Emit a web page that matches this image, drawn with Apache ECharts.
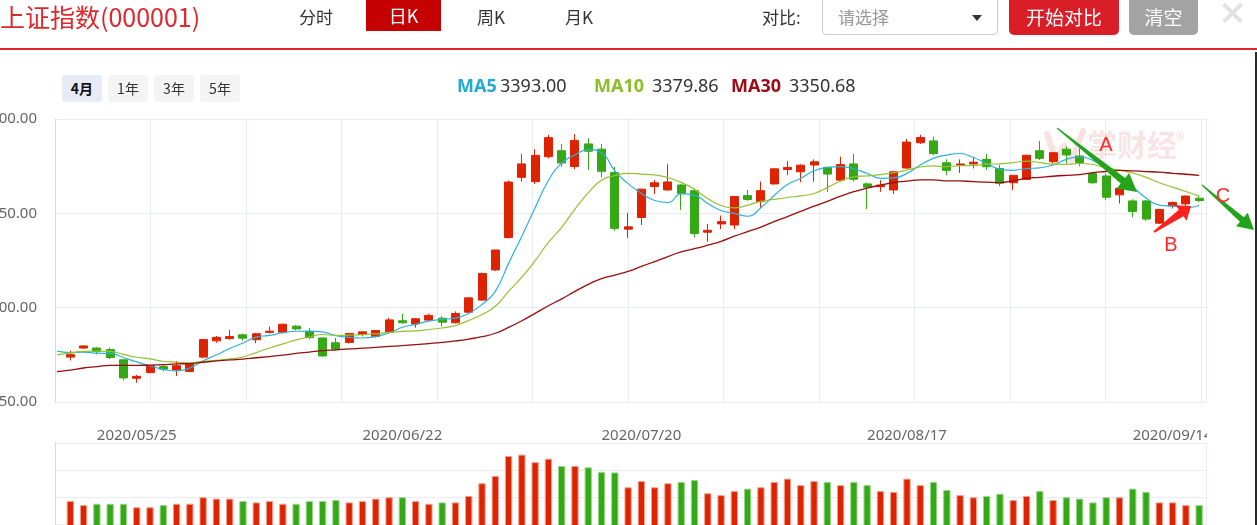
<!DOCTYPE html>
<html><head><meta charset="utf-8">
<script src="https://cdn.jsdelivr.net/npm/echarts@6/dist/echarts.min.js"></script>
<style>
html,body{margin:0;padding:0;background:#fff;width:1257px;height:525px;overflow:hidden;font-family:"Noto Sans CJK SC","Noto Sans",sans-serif;}
#chart{position:absolute;left:0;top:0;width:1257px;height:525px;}
.a{position:absolute;white-space:nowrap;}
.tab{font-size:17px;color:#333;top:3px;line-height:28px;}
.pb{top:75px;height:27px;width:40px;line-height:27px;text-align:center;font-size:14px;color:#333;background:#f4f4f4;border-radius:3px;}
.lg{top:72px;line-height:26px;font-size:18px;font-family:"Noto Sans",sans-serif;color:#333;}
.lg b{font-weight:700;}
</style></head><body>
<div id="chart"></div>
<div class="a" style="left:0;top:0;font-size:25px;line-height:32px;color:#dc282d;">上证指数(000001)</div>
<div class="a tab" style="left:299px;">分时</div>
<div class="a" style="left:366px;top:0;width:75px;height:31px;background:#c40000;color:#fff;font-size:18px;line-height:31px;text-align:center;">日K</div>
<div class="a tab" style="left:477px;">周K</div>
<div class="a tab" style="left:565px;">月K</div>
<div class="a tab" style="left:762px;">对比:</div>
<div class="a" style="left:822px;top:-5px;width:174px;height:38px;border:1px solid #ccc;border-radius:4px;"></div>
<div class="a tab" style="left:838px;color:#999;">请选择</div>
<div class="a" style="left:972px;top:15px;width:0;height:0;border-left:5px solid transparent;border-right:5px solid transparent;border-top:6px solid #333;"></div>
<div class="a" style="left:1009px;top:-5px;width:110px;height:40px;background:#da1e28;border-radius:5px;color:#fff;font-size:19px;line-height:44px;text-align:center;">开始对比</div>
<div class="a" style="left:1129px;top:-5px;width:69px;height:40px;background:#a3a3a3;border-radius:5px;color:#fff;font-size:19px;line-height:44px;text-align:center;">清空</div>
<div class="a" style="left:1220px;top:11px;width:25px;height:4px;background:#e2e2e2;transform:rotate(45deg);"></div>
<div class="a" style="left:1220px;top:11px;width:25px;height:4px;background:#e2e2e2;transform:rotate(-45deg);"></div>
<div class="a" style="left:0;top:48px;width:1257px;height:2px;background:#dc282d;"></div>
<div class="a" style="left:1255px;top:52px;width:2px;height:473px;background:#2a2a2a;"></div>
<div class="a pb" style="left:62px;background:#e6ebf5;color:#111;font-weight:700;">4月</div>
<div class="a pb" style="left:108px;">1年</div>
<div class="a pb" style="left:154px;">3年</div>
<div class="a pb" style="left:200px;">5年</div>
<div class="a lg" style="left:457px;"><b style="color:#22aad2">MA5</b></div>
<div class="a lg" style="left:500px;" id="v5"></div>
<div class="a lg" style="left:594px;"><b style="color:#8cbe28">MA10</b></div>
<div class="a lg" style="left:652px;" id="v10"></div>
<div class="a lg" style="left:731px;"><b style="color:#a00a14">MA30</b></div>
<div class="a lg" style="left:789px;" id="v30"></div>
<script>
// ---------------- data ----------------
const dates = ['2020/05/15','2020/05/18','2020/05/19','2020/05/20','2020/05/21','2020/05/22','2020/05/25','2020/05/26','2020/05/27','2020/05/28','2020/05/29',
'2020/06/01','2020/06/02','2020/06/03','2020/06/04','2020/06/05','2020/06/08','2020/06/09','2020/06/10','2020/06/11','2020/06/12','2020/06/15','2020/06/16','2020/06/17','2020/06/18','2020/06/19','2020/06/22','2020/06/23','2020/06/24','2020/06/29','2020/06/30',
'2020/07/01','2020/07/02','2020/07/03','2020/07/06','2020/07/07','2020/07/08','2020/07/09','2020/07/10','2020/07/13','2020/07/14','2020/07/15','2020/07/16','2020/07/17','2020/07/20','2020/07/21','2020/07/22','2020/07/23','2020/07/24','2020/07/27','2020/07/28','2020/07/29','2020/07/30','2020/07/31',
'2020/08/03','2020/08/04','2020/08/05','2020/08/06','2020/08/07','2020/08/10','2020/08/11','2020/08/12','2020/08/13','2020/08/14','2020/08/17','2020/08/18','2020/08/19','2020/08/20','2020/08/21','2020/08/24','2020/08/25','2020/08/26','2020/08/27','2020/08/28','2020/08/31',
'2020/09/01','2020/09/02','2020/09/03','2020/09/04','2020/09/07','2020/09/08','2020/09/09','2020/09/10','2020/09/11','2020/09/14','2020/09/15','2020/09/16'];

const closes = [2868.46,2875.42,2898.58,2883.74,2867.92,2813.77,2817.97,2846.55,2836.80,2846.22,2852.35,
2915.43,2921.40,2923.37,2919.25,2930.80,2937.77,2956.11,2943.75,2920.90,2919.74,2890.03,2931.75,2935.87,2939.32,2967.63,2965.27,2970.62,2979.55,2961.52,2984.67,
3025.98,3090.57,3152.81,3332.88,3345.34,3403.44,3450.59,3383.32,3443.29,3414.62,3361.30,3210.10,3214.13,3314.15,3320.90,3333.16,3325.11,3196.77,3205.23,3227.96,3294.55,3286.82,3310.01,
3367.97,3371.69,3377.56,3386.46,3354.04,3379.25,3340.29,3319.27,3320.73,3360.10,3438.80,3451.09,3408.13,3363.90,3380.68,3385.64,3373.58,3329.74,3350.59,3403.81,3395.68,
3410.61,3404.80,3384.98,3355.37,3292.59,3316.42,3254.63,3234.82,3260.35,3278.81,3295.68,3283.92];

const opens = [null,2869,2893,2893,2889,2862,2813,2828,2844,2835,2831,
2869,2912,2918,2928,2915,2934,2935,2951,2937,2872,2907,2908,2929,2924,2935,2960,2957,2967,2972,2960,
2988,3020,3100,3186,3381,3334,3400,3416,3374,3434,3420,3358,3208,3239,3331,3312,3303,3310,3200,3222,3219,3297,3281,
3328,3366,3360,3378,3372,3338,3381,3328,3325,3312,3370,3437,3442,3384,3378,3381,3393,3369,3331,3340,3416,
3387,3420,3402,3331,3349,3299,3283,3283,3224,3270,3275,3290];

const highs = [null,2886,2900,2895,2894,2863,2822,2847,2850,2859,2853,
2917,2925,2941,2931,2933,2950,2957,2954,2946,2921,2920,2932,2936,2940,2973,2983,2972,2984,2978,2990,
3027,3093,3153,3337,3407,3420,3458,3434,3460,3449,3434,3373,3251,3315,3338,3380,3327,3316,3222,3244,3295,3312,3334,
3368,3389,3380,3393,3374,3400,3407,3332,3338,3362,3447,3458,3453,3393,3393,3400,3407,3378,3352,3405,3442,
3413,3427,3422,3360,3355,3322,3287,3285,3261,3281,3298,3298];

const lows = [null,2860,2891,2876,2864,2808,2801,2826,2831,2819,2829,
2866,2907,2915,2913,2906,2932,2932,2940,2916,2870,2886,2905,2924,2921,2933,2957,2947,2965,2950,2958,
2985,3018,3097,3183,3334,3328,3396,3373,3367,3365,3345,3204,3185,3219,3301,3310,3259,3186,3175,3208,3208,3283,3263,
3326,3351,3333,3334,3307,3334,3334,3261,3307,3301,3368,3434,3404,3351,3357,3369,3365,3322,3312,3338,3391,
3382,3382,3375,3328,3285,3276,3239,3230,3222,3263,3267,3280];

const volumes = [null,185,170,175,175,175,162,162,170,175,175,
199,194,194,185,180,185,175,175,185,185,189,180,185,194,199,199,185,175,180,180,
204,251,278,352,357,329,342,315,315,310,293,291,236,259,236,251,256,263,214,207,222,231,236,
256,268,244,259,256,244,256,244,222,219,268,244,256,226,207,199,204,212,189,204,222,
189,199,194,180,199,199,231,219,180,180,170,170];

const ma5 = [2884.64,2880.77,2882.17,2879.31,2878.82,2867.89,2856.40,2845.99,2836.60,2832.26,
2839.98,2859.47,2874.44,2891.75,2906.36,2922.05,2926.52,2933.46,2937.54,2937.87,
2935.65,2926.11,2921.23,2919.66,2923.34,2932.92,2947.97,2955.74,2964.48,2968.92,
2972.33,2984.47,3008.46,3043.11,3117.38,3189.52,3265.01,3337.01,3383.11,3405.20,
3419.05,3410.62,3362.53,3328.69,3302.86,3284.12,3278.49,3301.49,3298.02,3276.23,
3257.65,3249.92,3242.27,3264.91,3297.46,3326.21,3342.81,3362.74,3371.54,3373.80,
3367.52,3355.86,3342.72,3343.93,3355.84,3378.00,3395.77,3404.40,3408.52,3397.89,
3382.39,3366.71,3364.05,3368.67,3370.68,3378.09,3393.10,3399.98,3390.29,3369.67,
3350.83,3320.80,3290.77,3271.76,3269.01,3264.86,3270.72];

const ma10 = [2875.07,2880.37,2884.22,2884.78,2884.42,2876.26,2868.58,2864.08,2857.96,2855.54,
2853.93,2857.93,2860.22,2864.18,2869.31,2881.01,2892.99,2903.95,2914.65,2922.11,
2928.85,2926.31,2927.35,2928.60,2930.60,2934.29,2937.04,2938.49,2942.07,2946.13,
2952.62,2966.22,2982.10,3003.79,3043.15,3080.92,3124.74,3172.74,3213.11,3261.29,
3304.28,3337.82,3349.77,3355.90,3354.03,3351.58,3344.56,3332.01,3313.35,3289.55,
3270.88,3264.21,3271.88,3281.47,3286.85,3291.93,3296.37,3302.50,3318.23,3335.63,
3346.86,3349.34,3352.73,3357.74,3364.82,3372.76,3375.82,3373.56,3376.22,3376.86,
3380.19,3381.24,3384.23,3388.60,3384.28,3380.24,3379.90,3382.01,3379.48,3370.18,
3364.46,3356.95,3345.37,3331.03,3319.34,3307.85,3295.76];

const ma30 = [2830.50,2834.67,2840.13,2843.57,2847.04,2846.80,2846.89,2847.58,2848.92,2851.02,
2851.86,2855.33,2858.72,2861.54,2863.77,2867.23,2870.35,2874.27,2878.78,2882.30,
2885.95,2888.21,2890.59,2892.52,2894.78,2897.19,2899.54,2902.17,2904.89,2907.93,
2911.80,2916.82,2923.22,2932.19,2947.69,2965.41,2984.92,3005.06,3023.28,3043.18,
3061.92,3076.78,3086.41,3096.10,3109.26,3122.26,3135.44,3147.74,3156.18,3165.66,
3175.93,3189.41,3201.25,3213.72,3228.01,3241.48,3255.22,3269.08,3281.56,3295.49,
3307.34,3317.12,3324.79,3331.70,3335.23,3338.76,3338.91,3336.02,3335.94,3334.01,
3332.65,3331.59,3336.28,3342.60,3345.32,3348.31,3350.70,3352.69,3357.98,3360.89,
3363.84,3362.51,3360.77,3359.12,3356.15,3353.61,3350.49];

const labelDates = ['2020/05/25','2020/06/22','2020/07/20','2020/08/17','2020/09/14'];
const legendValues = ['3393.00','3379.86','3350.68'];
const priceMin = 2750, priceMax = 3500, priceStep = 250;
const volMax = 400, volStep = 100;

// ---------------- build ----------------
document.getElementById('v5').textContent = legendValues[0];
document.getElementById('v10').textContent = legendValues[1];
document.getElementById('v30').textContent = legendValues[2];

const RED = '#de2300', GREEN = '#34a815';
const upColor = i => closes[i] >= closes[i - 1] ? RED : GREEN;
const candleData = dates.map((d, i) => opens[i] == null ? '-' : {
  value: [opens[i], closes[i], lows[i], highs[i]],
  itemStyle: {color: upColor(i), color0: upColor(i), borderColor: upColor(i), borderColor0: upColor(i)}
});
const volData = dates.map((d, i) => volumes[i] == null ? '-' : {
  value: volumes[i],
  itemStyle: {color: upColor(i), borderColor: upColor(i) === RED ? '#f0a08e' : '#9ad68a', borderWidth: 1}
});

function arrow(x1, y1, x2, y2, w0, w1, hw, hl) {
  const dx = x2 - x1, dy = y2 - y1, L = Math.hypot(dx, dy), ux = dx / L, uy = dy / L, nx = -uy, ny = ux;
  const bx = x2 - ux * hl, by = y2 - uy * hl;
  return [[x1 + nx * w0 / 2, y1 + ny * w0 / 2], [bx + nx * w1 / 2, by + ny * w1 / 2], [bx + nx * hw / 2, by + ny * hw / 2], [x2, y2],
          [bx - nx * hw / 2, by - ny * hw / 2], [bx - nx * w1 / 2, by - ny * w1 / 2], [x1 - nx * w0 / 2, y1 - ny * w0 / 2]];
}

const GRIDC = '#e9edf3';
const gridBase = {outerBoundsMode: 'none', containLabel: false};
const chart = echarts.init(document.getElementById('chart'), null, {renderer: 'canvas'});
chart.setOption({
  animation: false,
  grid: [
    Object.assign({left: 50.4, top: 119, width: 1155.4, height: 283}, gridBase),
    Object.assign({left: 55, top: 119, width: 1151, height: 283}, gridBase),
    Object.assign({left: 50.4, top: 443, width: 1155.4, height: 108}, gridBase),
    Object.assign({left: 55, top: 443, width: 1151, height: 108}, gridBase)
  ],
  xAxis: [
    {type: 'category', gridIndex: 0, data: dates, boundaryGap: true,
     axisLine: {show: false}, axisTick: {show: false}, splitLine: {show: false},
     axisLabel: {interval: (i, v) => labelDates.includes(v), margin: 26, fontSize: 15, color: '#666', fontFamily: 'Noto Sans'}},
    {type: 'value', gridIndex: 1, min: 0, max: 1151 / 95.5, interval: 1,
     axisLine: {show: false}, axisTick: {show: false}, axisLabel: {show: false},
     splitLine: {show: true, lineStyle: {color: GRIDC, width: 1}}},
    {type: 'category', gridIndex: 2, data: dates, boundaryGap: true,
     axisLine: {show: false}, axisTick: {show: false}, axisLabel: {show: false}, splitLine: {show: false}},
    {type: 'value', gridIndex: 3, min: 0, max: 1, interval: 1,
     axisLine: {show: false}, axisTick: {show: false}, axisLabel: {show: false},
     splitLine: {show: true, lineStyle: {color: GRIDC, width: 1}}}
  ],
  yAxis: [
    {type: 'value', gridIndex: 0, min: priceMin, max: priceMax, show: false},
    {type: 'value', gridIndex: 1, min: priceMin, max: priceMax, interval: priceStep,
     axisLine: {show: true, lineStyle: {color: '#d3dbe8'}}, axisTick: {show: false},
     axisLabel: {formatter: v => v.toFixed(2), margin: 18, fontSize: 15, color: '#666', fontFamily: 'Noto Sans'},
     splitLine: {show: true, lineStyle: {color: GRIDC, width: 1}}},
    {type: 'value', gridIndex: 2, min: 0, max: volMax, show: false},
    {type: 'value', gridIndex: 3, min: 0, max: volMax, interval: volStep,
     axisLine: {show: true, lineStyle: {color: '#d3dbe8'}}, axisTick: {show: false}, axisLabel: {show: false},
     splitLine: {show: true, lineStyle: {color: GRIDC, width: 1}}}
  ],
  series: [
    {type: 'candlestick', xAxisIndex: 0, yAxisIndex: 0, data: candleData, barWidth: '64%', z: 2,
     itemStyle: {borderWidth: 1}},
    {type: 'line', name: 'MA5', xAxisIndex: 0, yAxisIndex: 0, data: ma5, smooth: true, showSymbol: false, z: 4,
     lineStyle: {color: '#2bb2dc', width: 1.2}},
    {type: 'line', name: 'MA10', xAxisIndex: 0, yAxisIndex: 0, data: ma10, smooth: true, showSymbol: false, z: 4,
     lineStyle: {color: '#95c130', width: 1.2}},
    {type: 'line', name: 'MA30', xAxisIndex: 0, yAxisIndex: 0, data: ma30, smooth: true, showSymbol: false, z: 4,
     lineStyle: {color: '#980d0d', width: 1.3}},
    {type: 'bar', xAxisIndex: 2, yAxisIndex: 2, data: volData, barWidth: '55%'}
  ],
  graphic: [
    {type: 'rect', left: 1207, top: 424, shape: {width: 47, height: 18}, style: {fill: '#fff'}, z: 100},
    // watermark
    {type: 'polyline', shape: {points: [[1047, 134], [1056, 160], [1064, 146], [1072, 160], [1083, 131]]},
     style: {stroke: 'rgba(226,120,120,0.22)', lineWidth: 6, lineCap: 'round', lineJoin: 'round', fill: null}, z: 1},
    {type: 'text', left: 1087, top: 130, style: {text: '掌财经', font: 'bold 30px "Noto Sans CJK SC"', fill: 'rgba(226,120,120,0.2)'}, z: 1},
    {type: 'text', left: 1176, top: 132, style: {text: '®', font: '10px "Noto Sans"', fill: 'rgba(226,120,120,0.3)'}, z: 1},
    // annotations
    {type: 'polygon', shape: {points: arrow(1057, 128, 1137, 192, 1, 7, 20, 18)}, style: {fill: '#22a51b'}, z: 50},
    {type: 'polygon', shape: {points: arrow(1154, 232, 1191, 206, 2, 8, 19, 12)}, style: {fill: '#ff2020'}, z: 50},
    {type: 'polygon', shape: {points: arrow(1202, 185, 1254, 230, 1, 6, 18, 16)}, style: {fill: '#22a51b'}, z: 50},
    {type: 'text', x: 1106, y: 145, style: {text: 'A', font: '20px "Liberation Sans"', fill: '#ff2a2a', align: 'center', verticalAlign: 'middle'}, z: 51},
    {type: 'text', x: 1171, y: 245, style: {text: 'B', font: '20px "Liberation Sans"', fill: '#ff2a2a', align: 'center', verticalAlign: 'middle'}, z: 51},
    {type: 'text', x: 1223, y: 196, style: {text: 'C', font: '20px "Liberation Sans"', fill: '#ff2a2a', align: 'center', verticalAlign: 'middle'}, z: 51}
  ]
});
</script>
</body></html>
